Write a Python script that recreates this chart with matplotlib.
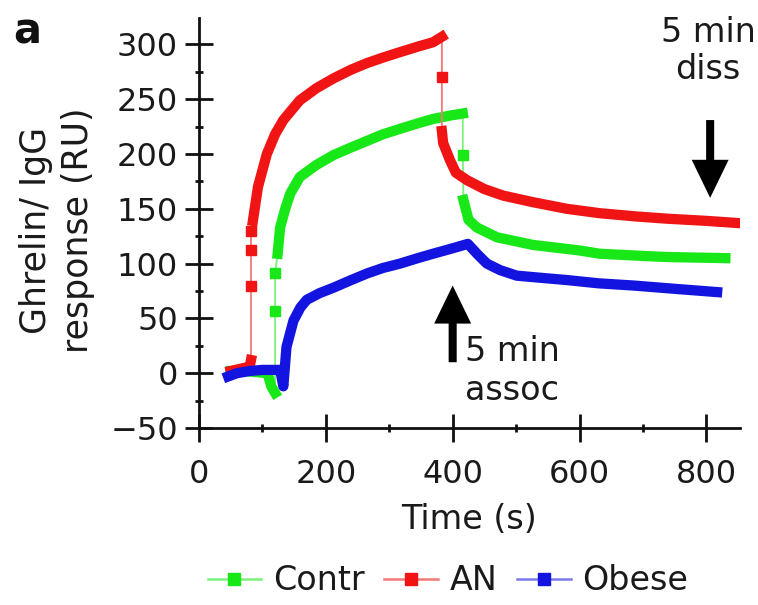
import numpy as np
import matplotlib.pyplot as plt

plt.rcParams['font.family'] = ['DejaVu Sans']

# Sensorgram values (time in s, response in RU)
contr_t = [50, 70, 90, 108, 114, 120, 120, 120, 124, 128, 136, 144, 159, 185,
           212, 240, 265, 290, 317, 345, 369, 395, 416, 416, 417, 425, 438,
           470, 527, 600, 632, 700, 738, 830]
contr_y = [2, 2, 1, 0, -12, -18, 57, 91, 109, 133, 150, 164, 179, 190,
           199, 206, 212, 218, 223, 228, 232, 235, 237, 199, 158, 140, 133,
           124, 117, 112, 109, 107, 106, 105]

an_t = [50, 65, 80, 82, 82, 82, 82, 85, 93, 107, 120, 133, 159, 185, 212,
        240, 265, 290, 317, 345, 369, 383, 383, 383, 385, 396, 405, 423, 450,
        480, 527, 580, 632, 690, 738, 800, 850]
an_y = [2, 4, 6, 12, 80, 112, 130, 139, 170, 200, 218, 231, 249, 260, 269,
        277, 283, 288, 293, 298, 302, 307, 270, 221, 210, 194, 183, 176, 168,
        162, 156, 150, 146, 143, 141, 139, 137]

obese_t = [46, 60, 80, 100, 120, 128, 133, 138, 149, 160, 170, 190, 212, 240,
           265, 290, 317, 345, 369, 400, 424, 440, 454, 475, 501, 540, 580,
           630, 685, 750, 817]
obese_y = [-3, 0, 2, 3, 3, 3, -12, 24, 48, 60, 67, 73, 78, 85,
           91, 96, 100, 105, 109, 114, 118, 108, 100, 94, 89, 87, 85,
           82, 80, 77, 74]

# index ranges drawn as a continuous thick band (the rest are single points)
contr_bands = [(0, 6), (8, 23), (24, 34)]
an_bands = [(0, 4), (7, 22), (23, 37)]
obese_bands = [(0, 31)]

# (name, t, y, bands, colour, thin line colour)
series = [("Contr", contr_t, contr_y, contr_bands, "#18e818", "#7ef07e"),
          ("AN", an_t, an_y, an_bands, "#f01414", "#f27878"),
          ("Obese", obese_t, obese_y, obese_bands, "#1414e0", "#7a7aee")]

fig = plt.figure(figsize=(7.58, 6.05), dpi=100)
ax = fig.add_axes([0.2625, 0.2926, 0.7137, 0.6774])

for name, t, y, bands, col, light in series:
    t = np.array(t)
    y = np.array(y)
    in_band = np.zeros(len(t), bool)
    for a, b in bands:
        in_band[a:b] = True
    single = list(np.where(~in_band)[0])
    # thin connecting line, square markers only on the isolated points
    ax.plot(t, y, color=light, lw=1.3, marker='s', ms=6.5,
            mec=col, mfc=col, markevery=single)
    # dense data points merge into a thick band
    for a, b in bands:
        ax.plot(t[a:b], y[a:b], color=col, lw=7.4, solid_capstyle='projecting',
                solid_joinstyle='round')
    # legend entry
    ax.plot([], [], color=light, lw=1.8, marker='s', ms=9,
            mec=col, mfc=col, label=name)

# axes look
ax.set_xlim(0, 853)
ax.set_ylim(-50, 324)
ax.set_xticks(np.arange(0, 801, 200))
ax.set_xticks(np.arange(100, 801, 200), minor=True)
ax.set_yticks(np.arange(-50, 301, 50))
ax.set_yticks(np.arange(-25, 301, 50), minor=True)
for s in ["top", "right"]:
    ax.spines[s].set_visible(False)
for s in ["left", "bottom"]:
    ax.spines[s].set_linewidth(2)
    ax.spines[s].set_color("#111111")
ax.tick_params(which='major', direction='inout', length=20, width=2,
               labelsize=23, labelcolor="#1a1a1a", color="#111111", pad=5)
ax.tick_params(which='minor', direction='inout', length=6, width=2,
               color="#111111")
ax.tick_params(axis='x', which='major', pad=12)

ax.set_xlabel("Time (s)", fontsize=24, color="#1a1a1a", labelpad=10)
fig.text(57 / 758, 1 - 230 / 605, "Ghrelin/ IgG\nresponse (RU)", rotation=90,
         ha='center', va='center', multialignment='center', fontsize=25,
         color="#1a1a1a", linespacing=1.3)
fig.text(13 / 758, 1 - 31 / 605, "a", fontsize=30, fontweight='bold',
         va='center', ha='left', color="#111111")

# arrows marking association and dissociation
arr = dict(arrowstyle="simple,head_length=1.37,head_width=1.33,tail_width=0.29",
           mutation_scale=20, fc="black", ec="none", shrinkA=0, shrinkB=0)
ax.annotate("", xy=(400, 80), xytext=(400, 10), arrowprops=arr)
ax.annotate("", xy=(806, 160), xytext=(806, 231), arrowprops=arr)
ax.text(420, 2, "5 min\nassoc", fontsize=24, color="#1a1a1a", ha='left',
        va='center', linespacing=1.2)
ax.text(803, 294, "5 min\ndiss", fontsize=24, color="#1a1a1a", ha='center',
        va='center', multialignment='center', linespacing=1.15)

fig.legend(loc='center', bbox_to_anchor=(448 / 758, 1 - 581 / 605),
           ncol=3, frameon=False, fontsize=24, handlelength=1.6,
           handletextpad=0.35, columnspacing=0.6, labelcolor="#1a1a1a",
           borderaxespad=0, borderpad=0)

fig.savefig("out.png", dpi=100)
